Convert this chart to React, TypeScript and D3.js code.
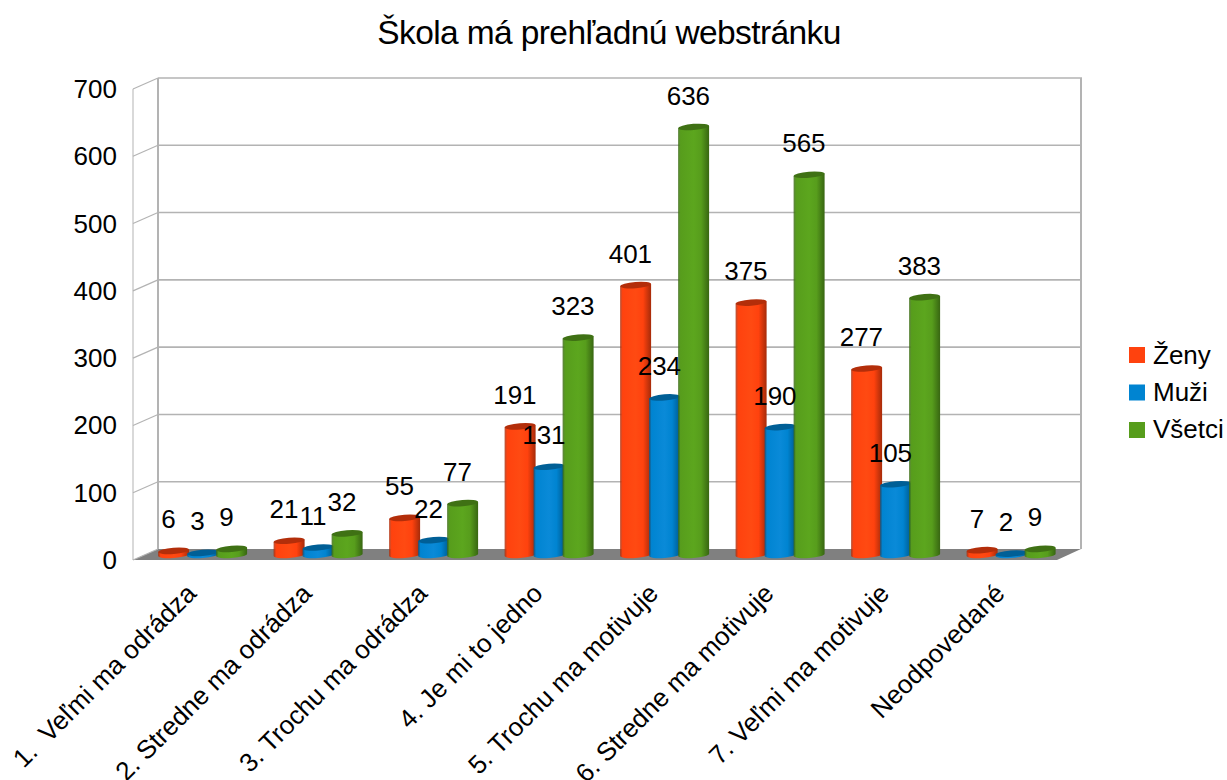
import React from "react";
import * as d3 from "d3";

const title = "Škola má prehľadnú webstránku";
const categories = ["1.  Veľmi ma odrádza", "2. Stredne ma odrádza", "3. Trochu ma odrádza", "4. Je mi to jedno", "5. Trochu ma motivuje", "6. Stredne ma motivuje", "7. Veľmi ma motivuje", "Neodpovedané"];
const seriesNames = ["Ženy", "Muži", "Všetci"];
const zeny = [6, 21, 55, 191, 401, 375, 277, 7];
const muzi = [3, 11, 22, 131, 234, 190, 105, 2];
const vsetci = [9, 32, 77, 323, 636, 565, 383, 9];
const seriesValues = [zeny, muzi, vsetci];
const yTicks = [0, 100, 200, 300, 400, 500, 600, 700];
const palette = [
  { base: "#ff420e", light: "#ff4a12", dark: "#a62b09", top: "#b32e0a" },
  { base: "#0084d1", light: "#0a8ad8", dark: "#005a8f", top: "#005f96" },
  { base: "#579d1c", light: "#5ca61e", dark: "#386612", top: "#3f7114" },
];

const W = 1227, H = 780;
const font = "'Liberation Sans', Arial, sans-serif";
const fs = 26;
const wall = "#b3b3b3";
const depthX = 25, depthY = 11;
const frontL = 133, frontR = 1057, baseY = 560, topY = 89;

export default function App() {
  const yFront = d3.scaleLinear().domain([0, 700]).range([baseY, topY]);
  const yBack = d3.scaleLinear().domain([0, 700]).range([baseY - depthY, topY - depthY]);
  const yBar = d3.scaleLinear().domain([0, 700]).range([baseY - depthY / 2, topY - depthY / 2]);
  const x0 = d3.scaleBand<string>().domain(categories).range([frontL + depthX / 2, frontR + depthX / 2]);
  const x1 = d3.scaleBand<string>().domain(seriesNames).range([13.6, 100.6]);
  const xFront = d3.scaleBand<string>().domain(categories).range([frontL, frontR]);
  const rw = 15.5, ry = 3.1, tilt = 1.2;
  const center = (c: string, s: string) => (x0(c) as number) + (x1(s) as number) + x1.bandwidth() / 2;

  return (
    <svg width={W} height={H} viewBox={`0 0 ${W} ${H}`} style={{ position: "absolute", left: 0, top: 0, fontFamily: font }}>
      <defs>
        {palette.map((p, i) => (
          <linearGradient key={i} id={`g${i}`} x1="0" x2="1" y1="0" y2="0">
            <stop offset="0" stopColor={p.dark} stopOpacity={0.8} />
            <stop offset="0.08" stopColor={p.base} />
            <stop offset="0.5" stopColor={p.light} />
            <stop offset="0.74" stopColor={p.base} />
            <stop offset="1" stopColor={p.dark} />
          </linearGradient>
        ))}
      </defs>
      <rect width={W} height={H} fill="#fff" />
      <text x={609} y={44} textAnchor="middle" fontSize={33.5} letterSpacing={-0.6} fill="#000">{title}</text>

      <polygon points={`${frontL},${baseY} ${frontL + depthX},${baseY - depthY} ${frontR + depthX - 1},${baseY - depthY} ${frontR},${baseY}`} fill="#808080" />
      <line x1={frontL} x2={frontL} y1={topY} y2={baseY} stroke={wall} strokeWidth={1} />
      <line x1={frontL + depthX} x2={frontL + depthX} y1={topY - depthY} y2={baseY - depthY} stroke={wall} strokeWidth={2} />
      <line x1={frontR + depthX - 1} x2={frontR + depthX - 1} y1={topY - depthY} y2={baseY - depthY} stroke={wall} strokeWidth={2} />
      {yTicks.map((t) => (
        <g key={t}>
          <line x1={frontL} y1={yFront(t)} x2={frontL + depthX} y2={yBack(t)} stroke={wall} strokeWidth={1.2} />
          {t > 0 && <line x1={frontL + depthX} y1={yBack(t)} x2={frontR + depthX} y2={yBack(t)} stroke={wall} strokeWidth={1.6} />}
          <text x={117} y={yFront(t) + 9} textAnchor="end" fontSize={fs} fill="#000">{t}</text>
        </g>
      ))}

      {categories.map((c, ci) =>
        seriesNames.map((s, si) => {
          const cx = center(c, s);
          const left = cx - rw, right = cx + rw;
          const v = seriesValues[si][ci];
          const yt = yBar(v) + 0.4, yb = yBar(0) + 0.4;
          const p = palette[si];
          return (
            <g key={s}>
              <path
                d={`M${left},${yt + tilt} L${left},${yb + tilt} A${rw},${ry} -4.5 0 0 ${right},${yb - tilt} L${right},${yt - tilt} Z`}
                fill={`url(#g${si})`}
              />
              <ellipse cx={cx} cy={yt} rx={rw} ry={ry} fill={p.top} transform={`rotate(-4.5 ${cx} ${yt})`} />
            </g>
          );
        })
      )}

      {categories.map((c, ci) =>
        seriesNames.map((s, si) => {
          const v = seriesValues[si][ci];
          return (
            <text key={s} x={center(c, s) - 5.2} y={yBar(v) - 22} textAnchor="middle" fontSize={fs} fill="#000">{v}</text>
          );
        })
      )}

      {categories.map((c) => {
        const px = (xFront(c) as number) + xFront.bandwidth() / 2 + 7;
        const py = 595;
        return (
          <text key={c} x={px} y={py} textAnchor="end" fontSize={fs} fill="#000" xmlSpace="preserve" style={{ whiteSpace: "pre" }} transform={`rotate(-45 ${px} ${py})`}>{c}</text>
        );
      })}

      {seriesNames.map((s, i) => (
        <g key={s}>
          <rect x={1129} y={347 + i * 37.5} width={16} height={16} fill={palette[i].base} />
          <text x={1153} y={364 + i * 37} fontSize={fs} fill="#000">{s}</text>
        </g>
      ))}
    </svg>
  );
}
